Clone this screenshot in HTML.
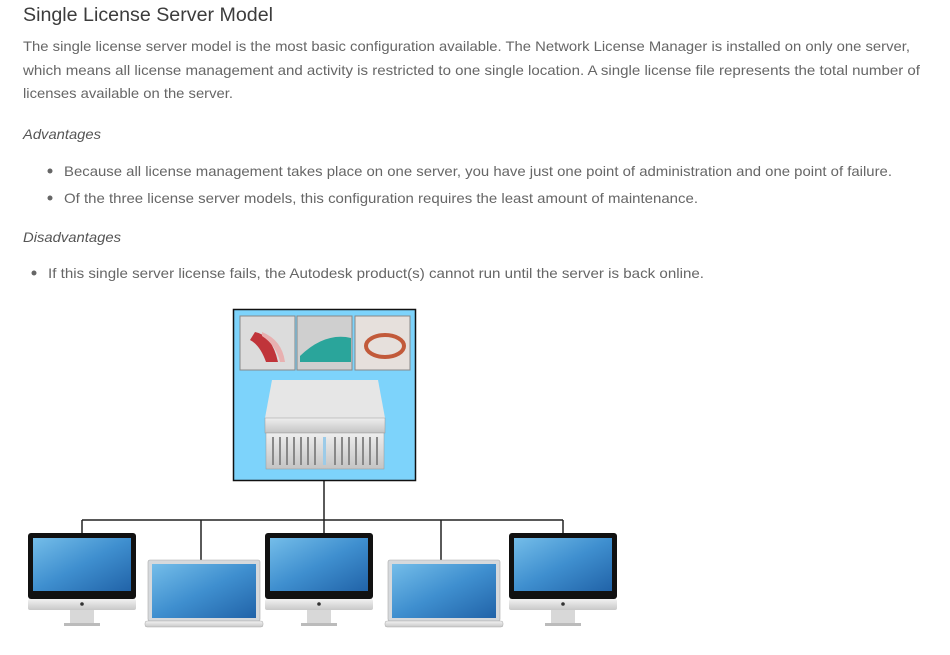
<!DOCTYPE html>
<html><head><meta charset="utf-8"><style>html,body{margin:0;padding:0;background:#fff;width:950px;height:655px;overflow:hidden}</style></head>
<body>
<svg width="950" height="655" viewBox="0 0 950 655" xmlns="http://www.w3.org/2000/svg" font-family="Liberation Sans, sans-serif">
<defs>
<linearGradient id="scr" x1="0" y1="0" x2="1" y2="1"><stop offset="0" stop-color="#74bde9"/><stop offset="0.5" stop-color="#3f8fcf"/><stop offset="1" stop-color="#2163a8"/></linearGradient>
<linearGradient id="alu" x1="0" y1="0" x2="0" y2="1"><stop offset="0" stop-color="#f2f2f2"/><stop offset="1" stop-color="#c8c8c8"/></linearGradient>
<linearGradient id="srv" x1="0" y1="0" x2="0" y2="1"><stop offset="0" stop-color="#eeeeee"/><stop offset="1" stop-color="#c4c4c4"/></linearGradient>
<g id="imac">
<rect x="0" y="0" width="108" height="66" rx="3" fill="#111"/>
<rect x="5" y="5" width="98" height="53" fill="url(#scr)"/>
<rect x="0" y="66" width="108" height="11" rx="2" fill="url(#alu)"/>
<circle cx="54" cy="71" r="1.8" fill="#333"/>
<rect x="42" y="77" width="24" height="13" fill="#d8d8d8"/>
<rect x="36" y="90" width="36" height="3" fill="#bbb"/>
</g>
<g id="lap">
<rect x="0" y="0" width="112" height="61" rx="2" fill="#d6d9dc" stroke="#aaa" stroke-width="0.6"/>
<rect x="4" y="4" width="104" height="54" fill="url(#scr)"/>
<rect x="-3" y="61" width="118" height="6" rx="2" fill="url(#alu)" stroke="#aaa" stroke-width="0.5"/>
</g>
</defs>
<g fill="#666" font-size="14">
<text x="23" y="21" font-size="19" fill="#3c3c3c" textLength="250" lengthAdjust="spacingAndGlyphs">Single License Server Model</text>
<text x="23" y="51" textLength="887" lengthAdjust="spacingAndGlyphs">The single license server model is the most basic configuration available. The Network License Manager is installed on only one server,</text>
<text x="23" y="75" textLength="897" lengthAdjust="spacingAndGlyphs">which means all license management and activity is restricted to one single location. A single license file represents the total number of</text>
<text x="23" y="98" textLength="210" lengthAdjust="spacingAndGlyphs">licenses available on the server.</text>
<text x="23" y="139" font-style="italic" fill="#555" textLength="78" lengthAdjust="spacingAndGlyphs">Advantages</text>
<circle cx="50" cy="171" r="2.5"/>
<text x="64" y="176" textLength="828" lengthAdjust="spacingAndGlyphs">Because all license management takes place on one server, you have just one point of administration and one point of failure.</text>
<circle cx="50" cy="198" r="2.5"/>
<text x="64" y="203" textLength="634" lengthAdjust="spacingAndGlyphs">Of the three license server models, this configuration requires the least amount of maintenance.</text>
<text x="23" y="242" font-style="italic" fill="#555" textLength="98" lengthAdjust="spacingAndGlyphs">Disadvantages</text>
<circle cx="34" cy="273" r="2.5"/>
<text x="48" y="278" textLength="656" lengthAdjust="spacingAndGlyphs">If this single server license fails, the Autodesk product(s) cannot run until the server is back online.</text>
</g>
<g stroke="#222" stroke-width="1.5" fill="none">
<line x1="324" y1="481" x2="324" y2="535"/>
<line x1="82" y1="520" x2="563" y2="520"/>
<line x1="82" y1="520" x2="82" y2="535"/>
<line x1="201" y1="520" x2="201" y2="562"/>
<line x1="441" y1="520" x2="441" y2="562"/>
<line x1="563" y1="520" x2="563" y2="535"/>
</g>
<rect x="233.5" y="309.5" width="182" height="171" fill="#7dd3fb" stroke="#111" stroke-width="1.5"/>
<rect x="240" y="316" width="55" height="54" fill="#dcdcdc" stroke="#888"/>
<path d="M255 332 Q272 335 278 362 L266 362 Q260 345 250 340 Z" fill="#c0343a"/>
<path d="M262 332 Q282 340 285 362 L280 362 Q276 345 262 336 Z" fill="#e8b0b0"/>
<rect x="297" y="316" width="55" height="54" fill="#cfcfcf" stroke="#888"/>
<path d="M300 356 Q325 332 351 338 L351 362 L300 362 Z" fill="#2aa59b"/>
<rect x="355" y="316" width="55" height="54" fill="#e6e0dc" stroke="#888"/>
<ellipse cx="385" cy="346" rx="19" ry="11" fill="none" stroke="#c25a3a" stroke-width="4"/>
<polygon points="272,380 378,380 385,418 265,418" fill="#e6e6e6"/>
<rect x="265" y="418" width="120" height="15" fill="url(#srv)" stroke="#999" stroke-width="0.5"/>
<rect x="266" y="433" width="118" height="36" fill="url(#srv)" stroke="#999" stroke-width="0.5"/>
<g fill="#888">
<rect x="272" y="437" width="2" height="28"/><rect x="279" y="437" width="2" height="28"/><rect x="286" y="437" width="2" height="28"/><rect x="293" y="437" width="2" height="28"/><rect x="300" y="437" width="2" height="28"/><rect x="307" y="437" width="2" height="28"/><rect x="314" y="437" width="2" height="28"/>
<rect x="334" y="437" width="2" height="28"/><rect x="341" y="437" width="2" height="28"/><rect x="348" y="437" width="2" height="28"/><rect x="355" y="437" width="2" height="28"/><rect x="362" y="437" width="2" height="28"/><rect x="369" y="437" width="2" height="28"/><rect x="376" y="437" width="2" height="28"/>
</g>
<rect x="323" y="437" width="3" height="28" fill="#9ccbe8"/>
<use href="#imac" x="28" y="533"/>
<use href="#lap" x="148" y="560"/>
<use href="#imac" x="265" y="533"/>
<use href="#lap" x="388" y="560"/>
<use href="#imac" x="509" y="533"/>
</svg>
</body></html>
